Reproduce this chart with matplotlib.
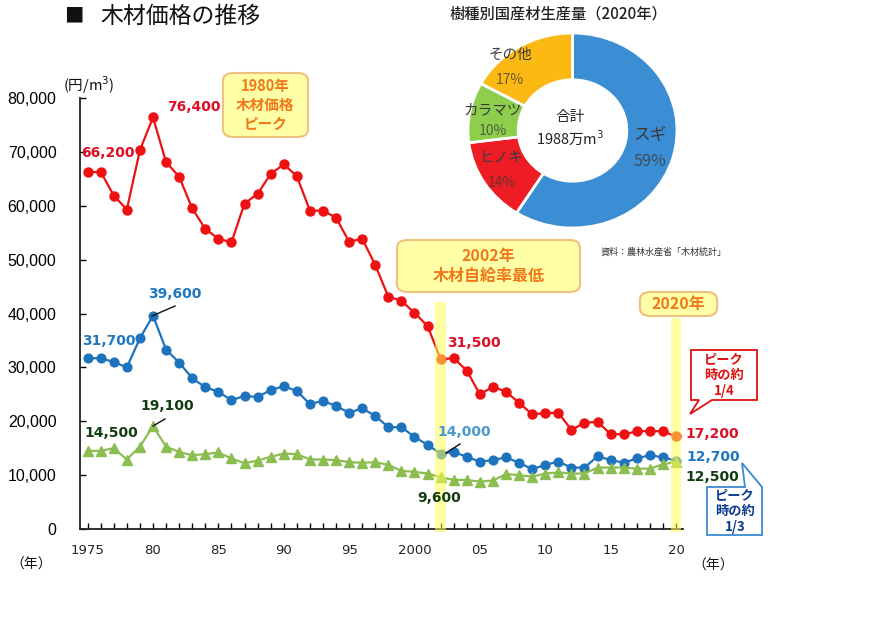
import matplotlib
matplotlib.use("Agg")
import matplotlib.pyplot as plt
from matplotlib.patches import Polygon, FancyBboxPatch
import numpy as np

W, H = 895, 629
JP = ['Noto Sans CJK JP', 'DejaVu Sans']
NUM = ['DejaVu Sans']

years = list(range(1975, 2021))
sugi_red = [66200, 66300, 61900, 59300, 70300, 76400, 68100, 65400, 59500, 55700,
            53900, 53200, 60400, 62200, 65900, 67700, 65500, 59100, 59100, 57800,
            53300, 53900, 49000, 43100, 42400, 40100, 37700, 31500, 31700, 29400,
            25000, 26400, 25500, 23400, 21300, 21500, 21600, 18400, 19700, 19900,
            17600, 17600, 18100, 18200, 18100, 17200]
sugi_blue = [31700, 31700, 31000, 30000, 35400, 39600, 33300, 30900, 28000, 26300,
             25500, 23900, 24700, 24500, 25800, 26500, 25600, 23200, 23800, 22800,
             21600, 22400, 21000, 18900, 18900, 17100, 15600, 14000, 14300, 13400,
             12500, 12800, 13300, 12300, 11100, 11900, 12500, 11400, 11400, 13500,
             12800, 12300, 13100, 13700, 13300, 12700]
green_vals = [14500, 14500, 15000, 12900, 15300, 19100, 15300, 14300, 13700, 13900,
              14200, 13100, 12200, 12700, 13400, 14000, 13900, 12900, 12900, 12800,
              12400, 12300, 12400, 11900, 10800, 10600, 10300, 9600, 9100, 9100,
              8800, 9000, 10200, 10000, 9700, 10300, 10500, 10300, 10300, 11400,
              11400, 11400, 11200, 11200, 12000, 12500]

pie_labels = ['スギ', 'ヒノキ', 'カラマツ', 'その他']
pie_vals = [59, 14, 10, 17]
pie_colors = ['#3b8dd4', '#ee1c24', '#8dcf4c', '#fdb913']

yticks = [0, 10000, 20000, 30000, 40000, 50000, 60000, 70000, 80000]
xtick_pos = [1975, 1980, 1985, 1990, 1995, 2000, 2005, 2010, 2015, 2020]
xtick_lab = ['1975', '80', '85', '90', '95', '2000', '05', '10', '15', '20']

RED = '#ee1111'
BLUE = '#1e73be'
GREEN = '#8cbd50'
LRED = '#dc1028'
LBLUE = '#1f78c0'
LGREEN = '#123d12'
ORANGE = '#f07818'


def P(x, y):
    return (x / W, 1 - y / H)


fig = plt.figure(figsize=(W / 100, H / 100), dpi=100)
fig.patch.set_facecolor('white')

# ---------- main axes ----------
ax = fig.add_axes([80 / W, (H - 529) / H, (683 - 80) / W, (529 - 98) / H])
x0 = 1975 - (87.6 - 80) / 13.08
x1 = 2020 + (683 - 676) / 13.08
ax.set_xlim(x0, x1)
ax.set_ylim(0, 80000)
for s in ['top', 'right']:
    ax.spines[s].set_visible(False)
for s in ['left', 'bottom']:
    ax.spines[s].set_linewidth(1.3)
    ax.spines[s].set_color('#222222')
ax.set_yticks(yticks)
ax.set_yticklabels([f'{v:,}' for v in yticks], fontfamily='Liberation Sans', fontsize=11.5)
ax.set_xticks(xtick_pos)
ax.set_xticklabels(xtick_lab, fontfamily='DejaVu Sans', fontsize=9.5, color='#222222')
ax.set_xticks(years, minor=True)
ax.tick_params(axis='y', direction='in', length=4, width=1, pad=17)
ax.tick_params(axis='x', which='both', direction='in', length=4, width=1, pad=11)

ax.plot(years, sugi_red, color=RED, lw=1.6, marker='o', ms=6.5, zorder=3)
ax.plot(years, sugi_blue, color=BLUE, lw=1.6, marker='o', ms=6.3, zorder=3)
ax.plot(years, green_vals, color=GREEN, lw=1.6, marker='^', ms=7, zorder=3)

# highlight bands (semi-transparent overlays)
ax.axvspan(2002 - 0.42, 2002 + 0.42, ymin=-0.008, ymax=42100 / 80000,
           color='#ffff55', alpha=0.55, zorder=6, clip_on=False, lw=0)
ax.axvspan(2020 - 0.38, 2020 + 0.38, ymin=-0.008, ymax=39100 / 80000,
           color='#ffff55', alpha=0.55, zorder=6, clip_on=False, lw=0)

# ---------- data labels ----------
def lab(x, y, s, color, ha='left'):
    fig.text(*P(x, y), s, color=color, fontsize=10, fontweight='bold',
             fontfamily=NUM, ha=ha, va='center', zorder=5)

lab(81, 153, f'{sugi_red[0]:,}', LRED)
lab(167, 107, f'{sugi_red[5]:,}', LRED)
lab(447, 343, f'{sugi_red[27]:,}', LRED)
lab(685, 434, f'{sugi_red[-1]:,}', LRED)
lab(82, 341, f'{sugi_blue[0]:,}', LBLUE)
lab(148, 294, f'{sugi_blue[5]:,}', LBLUE)
lab(437, 432, f'{sugi_blue[27]:,}', '#4a9ad0')
lab(686, 457, f'{sugi_blue[-1]:,}', LBLUE)
lab(84, 433, f'{green_vals[0]:,}', LGREEN)
lab(140, 406, f'{green_vals[5]:,}', LGREEN)
lab(417, 498, f'{green_vals[27]:,}', LGREEN)
lab(685, 477, f'{green_vals[-1]:,}', LGREEN)

for (xa, ya), (xb, yb) in [((152, 316), (175, 306)), ((153, 426), (165, 419)),
                           ((446, 453), (460, 444))]:
    fig.add_artist(plt.Line2D([xa / W, xb / W], [1 - ya / H, 1 - yb / H],
                              color='#111111', lw=1, zorder=5))

# ---------- annotation boxes ----------
def note_box(xl, yt, xr, yb, lines, fs, ls=1.25):
    bx = FancyBboxPatch(P(xl, yb), (xr - xl) / W, (yb - yt) / H,
                        boxstyle='round,pad=0,rounding_size=0.012',
                        transform=fig.transFigure, facecolor='#ffffa8',
                        edgecolor='#f0c080', lw=1.5, zorder=8)
    fig.add_artist(bx)
    fig.text(*P((xl + xr) / 2, (yt + yb) / 2), lines, color=ORANGE, fontsize=fs,
             fontweight='bold', fontfamily=JP, ha='center', va='center',
             linespacing=ls, zorder=9)

note_box(223, 73, 308, 137, '1980年\n木材価格\nピーク', 10.5, 1.2)
note_box(397, 240, 580, 292, '2002年\n木材自給率最低', 11.5, 1.3)
note_box(640, 292, 717, 316, '2020年', 11.5)

# ---------- callouts ----------
red_call = Polygon([P(691, 350), P(757, 350), P(757, 400), P(712, 400),
                    P(690, 414), P(699, 400), P(691, 400)], closed=True,
                   transform=fig.transFigure, facecolor='white',
                   edgecolor='#dd1111', lw=1.3, zorder=8)
fig.add_artist(red_call)
fig.text(*P(724, 375), 'ピーク\n時の約\n1/4', color='#dd1111', fontsize=9.5,
         fontweight='bold', fontfamily=JP, ha='center', va='center',
         linespacing=1.15, zorder=9)

blue_call = Polygon([P(707, 487), P(745, 487), P(742, 463), P(762, 487),
                     P(762, 535), P(707, 535)], closed=True,
                    transform=fig.transFigure, facecolor='white',
                    edgecolor='#3a8ad0', lw=1.3, zorder=8)
fig.add_artist(blue_call)
fig.text(*P(735, 511), 'ピーク\n時の約\n1/3', color='#0a3d8f', fontsize=9.5,
         fontweight='bold', fontfamily=JP, ha='center', va='center',
         linespacing=1.15, zorder=9)

# ---------- axis captions / title ----------
fig.text(*P(63, 85), '(円/m$^3$)', fontsize=10.5, fontfamily=JP, ha='left',
         va='center', color='#111111')
fig.text(*P(10, 565), '（年）', fontsize=10, fontfamily=JP, ha='left',
         va='center', color='#111111')
fig.text(*P(692, 566), '（年）', fontsize=10, fontfamily=JP, ha='left',
         va='center', color='#111111')
fig.text(*P(64, 16), '■', fontsize=14, fontfamily=JP, ha='left', va='center',
         color='#111111')
fig.text(*P(100, 16), '木材価格の推移', fontsize=16.5, fontfamily=JP, ha='left',
         va='center', color='#111111')

# ---------- donut ----------
pax = fig.add_axes([468 / W, 1 - 228 / H, 209 / W, 195 / H])
pax.pie(pie_vals, colors=pie_colors, startangle=90, counterclock=False,
        wedgeprops=dict(width=0.48, edgecolor='white', linewidth=2))
pax.set_aspect('auto')
pax.set_xlim(-1, 1)
pax.set_ylim(-1, 1)
pax.axis('off')

fig.text(*P(558, 14), '樹種別国産材生産量（2020年）', fontsize=11, fontfamily=JP,
         ha='center', va='center', color='#222222', fontweight='medium')
fig.text(*P(570, 117), '合計', fontsize=10.5, fontfamily=JP, ha='center',
         va='center', color='#222222')
fig.text(*P(570, 138), '1988万m$^3$', fontsize=10.5, fontfamily=JP, ha='center',
         va='center', color='#222222')

pie_txt = [(650, 135, 162, 12), (502, 158, 183, 10.5), (493, 110, 131, 10.5),
           (510, 55, 80, 10.5)]
for (name, val), (tx, ty1, ty2, fs) in zip(zip(pie_labels, pie_vals), pie_txt):
    fig.text(*P(tx, ty1), name, fontsize=fs, fontfamily=JP, ha='center',
             va='center', color='#3a3a3a')
    fig.text(*P(tx, ty2), f'{val}%', fontsize=fs - 0.5, fontfamily=JP,
             ha='center', va='center', color='#3a3a3a', alpha=0.75)

fig.text(*P(664, 252), '資料：農林水産省「木材統計」', fontsize=6.5, fontfamily=JP,
         ha='center', va='center', color='#333333')

fig.savefig('out.png', dpi=100, facecolor='white')
